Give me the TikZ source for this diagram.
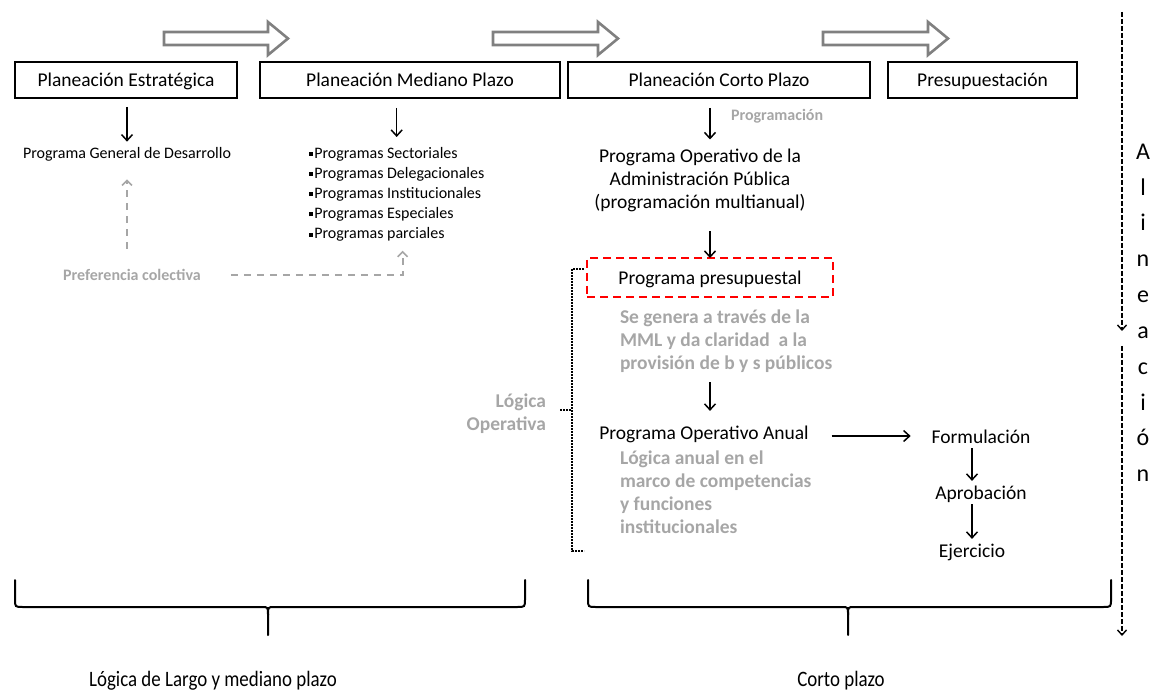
\documentclass[tikz,border=0pt]{standalone}
\usepackage{fontspec}
\setmainfont{Carlito}
\newfontfamily\condfont[FakeStretch=0.86]{Carlito}
\usetikzlibrary{arrows.meta}
\definecolor{softgray}{HTML}{A6A6A6}
\definecolor{framegray}{HTML}{808080}
\definecolor{dashred}{HTML}{FF0000}

% hollow block arrow between x-positions #1 (tail) and #2 (tip)
\newcommand\progarrow[2]{%
  \draw[hollow] (#1,32) -- (#2-20,32) -- (#2-20,22) -- (#2,38.5) -- (#2-20,55)
    -- (#2-20,45) -- (#1,45) -- cycle;}
% curly brace opening downwards: left end #1, tip #2, right end #3
\newcommand\downbrace[3]{%
  \draw[brace] (#1,580) -- (#1,599) .. controls (#1,607) .. (#1+8,607)
    -- (#2-6,607) .. controls (#2,607) .. (#2,615) -- (#2,635);
  \draw[brace] (#3,580) -- (#3,599) .. controls (#3,607) .. (#3-8,607)
    -- (#2+6,607) .. controls (#2,607) .. (#2,615);}
\newcommand\sqbullet{\rule[0.15em]{0.24em}{0.24em}\hspace{1.5pt}}

\begin{document}
\begin{tikzpicture}[x=1pt,y=-1pt,
  every node/.style={inner sep=0pt, outer sep=0pt},
  big/.style={font=\fontsize{19.5}{23}\selectfont},
  one/.style={text height=16pt, text depth=2.2pt},
  small/.style={font=\fontsize{16}{20.2}\selectfont, text height=13pt, text depth=1.7pt},
  stage/.style={big, one, draw, line width=1.6pt, minimum height=36pt},
  note/.style={text=softgray, font=\bfseries\fontsize{19.5}{23}\selectfont},
  darr/.style={line width=1.5pt, -{Straight Barb[length=6pt,width=11pt,line width=1.5pt]}},
  gdash/.style={draw=softgray, line width=2pt, dash pattern=on 7pt off 6pt,
    -{Straight Barb[length=5pt,width=10pt,line width=1.6pt]}},
  hollow/.style={draw=framegray, fill=white, line width=2.6pt, line join=miter},
  brace/.style={line width=2pt, line cap=round},
  aligndash/.style={line width=1.5pt, dash pattern=on 5pt off 2pt,
    -{Straight Barb[length=5pt,width=9pt,line width=1.4pt]}},
  dotbar/.style={line width=2.2pt, dash pattern=on 2pt off 1pt},
  horizon/.style={font=\condfont\fontsize{22}{26}\selectfont, text height=16pt, text depth=2pt}
]
\useasboundingbox (0,0) rectangle (1156,692);

% stage arrows along the top
\progarrow{164}{288}
\progarrow{493}{618}
\progarrow{823}{948}

% planning stages
\node[stage, minimum width=222pt] (pe) at (126,80) {Planeación Estratégica};
\node[stage, minimum width=300pt] (pmp) at (410,80) {Planeación Mediano Plazo};
\node[stage, minimum width=302pt] (pcp) at (719,80) {Planeación Corto Plazo};
\node[stage, minimum width=189pt] (pres) at (982.5,80) {Presupuestación};

% long and medium term column
\node[small] (pgd) at (127,153) {Programa General de Desarrollo};
\node[small, text height=, text depth=, align=left, anchor=north west] (lst) at (309,147)
  {\sqbullet Programas Sectoriales\\ \sqbullet Programas Delegacionales\\
   \sqbullet Programas Institucionales\\ \sqbullet Programas Especiales\\
   \sqbullet Programas parciales};
\node[small, text=softgray, font=\bfseries\fontsize{16}{20}\selectfont] (pref) at (132,275)
  {Preferencia colectiva};

\draw[darr, shorten <=9pt, shorten >=4pt] (pgd.north |- pe.south) -- (pgd.north);
\draw[darr, shorten <=10pt, shorten >=10pt] (lst.north |- pmp.south) -- (lst.north);
\draw[gdash, shorten <=19pt, shorten >=19pt] (pgd.south |- pref.north) -- (pgd.south);
\coordinate (lstin) at ([xshift=6pt, yshift=-9pt]lst.south);
\draw[gdash, shorten <=30pt] (pref.east) -- (pref.east -| lstin) -- (lstin);

% short term column
\node[small, text=softgray, font=\bfseries\fontsize{16}{20}\selectfont, anchor=west] (prog)
  at (731,115) {Programación};
\node[big, align=center, anchor=north] (poap) at (700,148.5)
  {Programa Operativo de la\\Administración Pública\\(programación multianual)};
\node[big, one, draw=dashred, line width=2pt, dash pattern=on 8pt off 5pt,
  minimum width=246pt, minimum height=39pt] (ppto) at (710,277.5) {Programa presupuestal};
\node[note, align=left, anchor=north west] (mml) at (620,309.5)
  {Se genera a través de la\\MML y da claridad \ a la\\provisión de b y s públicos};
\node[big, one] (poa) at (704,433) {Programa Operativo Anual};
\node[note, align=left, anchor=north west] (anual) at (620,450.5)
  {Lógica anual en el\\marco de competencias\\y funciones\\institucionales};
\node[note, align=right, anchor=north east] (lop) at (546,393.5) {Lógica\\Operativa};

\draw[darr, shorten <=10pt, shorten >=9pt] ([xshift=-9pt]pcp.south) -- ([xshift=-9pt]pcp.south |- poap.north);
\draw[darr, shorten <=20pt] (ppto.north |- poap.south) -- (ppto.north);
\draw[darr, shorten <=85pt, shorten >=13pt] (ppto.south) -- (ppto.south |- poa.north);

% budget cycle
\node[big, one] (form) at (981,437) {Formulación};
\node[big, one] (aprob) at (981,493) {Aprobación};
\node[big, one] (ejer) at (972,551) {Ejercicio};
\draw[darr, shorten <=23pt, shorten >=21pt] ([yshift=-3pt]poa.east) -- ([yshift=-3pt]poa.east -| form.west);
\draw[darr, shorten <=2pt, shorten >=3pt] (ejer.north |- form.south) -- (ejer.north |- aprob.north);
\draw[darr, shorten <=2pt, shorten >=3pt] (ejer.north |- aprob.south) -- (ejer.north);

% dotted bracket of the operative logic
\coordinate (bt) at (584,269);
\coordinate (bb) at (584,551);
\draw[dotbar] (bt) -- (572,269) -- (572,551) -- (bb);
\draw[dotbar] (lop.east |- 0,410) ++(14,0) -- (572,410);

% alignment axis
\node[font=\fontsize{24}{35.8}\selectfont, align=center, anchor=north] (alin) at (1143,144)
  {A\\l\\i\\n\\e\\a\\c\\i\\ó\\n};
\coordinate (ax0) at (1122,12);
\coordinate (ax1) at (1122,331);
\coordinate (ax2) at (1122,346);
\coordinate (ax3) at (1122,636);
\draw[aligndash] (ax0) -- (ax1);
\draw[aligndash] (ax2) -- (ax3);

% time horizons
\downbrace{15}{268}{525}
\downbrace{588}{848}{1111}
\node[horizon] (lml) at (213,679) {Lógica de Largo y mediano plazo};
\node[horizon] (cp) at (841,679) {Corto plazo};
\end{tikzpicture}
\end{document}
